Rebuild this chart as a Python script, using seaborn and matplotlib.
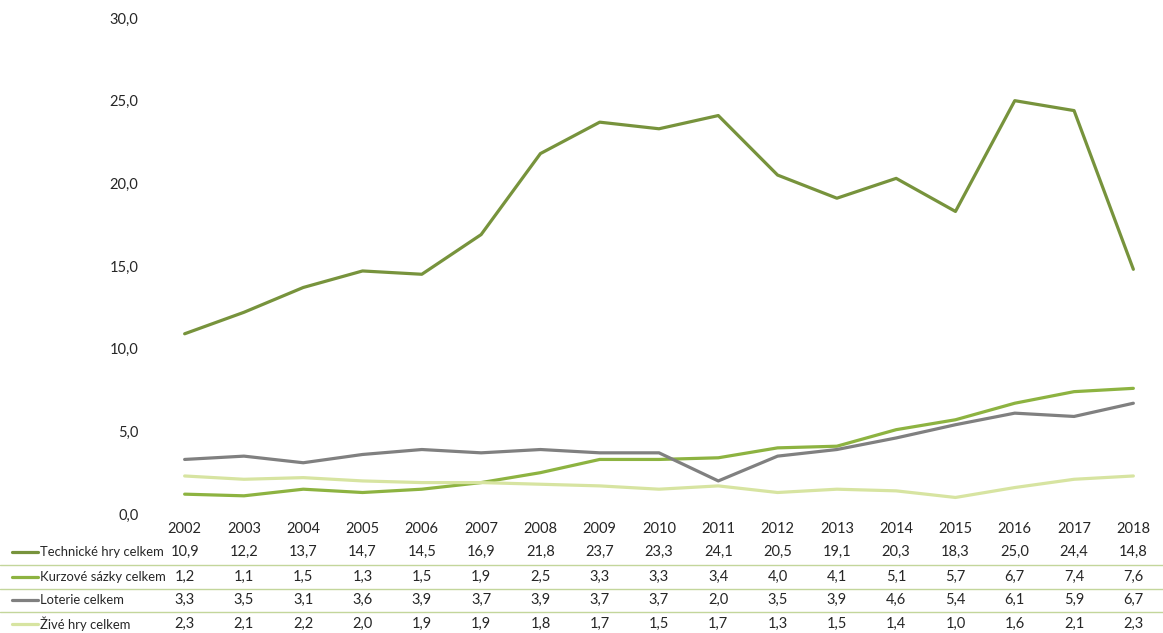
import pandas as pd
import matplotlib.pyplot as plt
import matplotlib.transforms as mtransforms
import seaborn as sns

years = list(range(2002, 2019))
technicke = [10.9, 12.2, 13.7, 14.7, 14.5, 16.9, 21.8, 23.7, 23.3, 24.1, 20.5, 19.1, 20.3, 18.3, 25.0, 24.4, 14.8]
kurzove = [1.2, 1.1, 1.5, 1.3, 1.5, 1.9, 2.5, 3.3, 3.3, 3.4, 4.0, 4.1, 5.1, 5.7, 6.7, 7.4, 7.6]
loterie = [3.3, 3.5, 3.1, 3.6, 3.9, 3.7, 3.9, 3.7, 3.7, 2.0, 3.5, 3.9, 4.6, 5.4, 6.1, 5.9, 6.7]
zive = [2.3, 2.1, 2.2, 2.0, 1.9, 1.9, 1.8, 1.7, 1.5, 1.7, 1.3, 1.5, 1.4, 1.0, 1.6, 2.1, 2.3]

series_names = ["Technické hry celkem", "Kurzové sázky celkem", "Loterie celkem", "Živé hry celkem"]
series_values = [technicke, kurzove, loterie, zive]
colors = ["#77933C", "#8DB341", "#808080", "#D7E4A1"]

rows = []
for name, vals in zip(series_names, series_values):
    for i, v in enumerate(vals):
        rows.append({"pos": i, "rok": years[i], "serie": name, "hodnota": v})
df = pd.DataFrame(rows)

sns.set_style("white")
plt.rcParams["font.family"] = ["Lato", "DejaVu Sans"]

fig = plt.figure(figsize=(11.63, 6.33), dpi=100)
W, H = 1163, 633
ax = fig.add_axes([155 / W, (H - 514) / H, (1163 - 155) / W, (514 - 18) / H])

sns.lineplot(data=df, x="pos", y="hodnota", hue="serie", hue_order=series_names,
             palette=colors, linewidth=2.3, ax=ax, legend=False)

ax.set_xlim(-0.5, len(years) - 0.5)
ax.set_ylim(0, 30)
ax.set_yticks([0, 5, 10, 15, 20, 25, 30])
ax.set_yticklabels([f"{t:.1f}".replace(".", ",") for t in [0, 5, 10, 15, 20, 25, 30]], fontsize=10.5)
ax.set_xticks(range(len(years)))
ax.set_xticklabels([str(y) for y in years], fontsize=10.5)
ax.tick_params(axis="y", length=0, pad=12)
ax.tick_params(axis="x", length=0, pad=6)
ax.set_xlabel("")
ax.set_ylabel("")
for s in ax.spines.values():
    s.set_visible(False)

# data table under the chart
trans = mtransforms.blended_transform_factory(ax.transData, fig.transFigure)
row_y = [552, 577, 600, 624]
sep_y = [565, 589, 612]
for name, vals, c, yp in zip(series_names, series_values, colors, row_y):
    yf = (H - yp) / H
    fig.add_artist(plt.Line2D([12 / W, 38 / W], [yf, yf], color=c, linewidth=2.3))
    fig.text(40 / W, yf, name, fontsize=9.4, va="center", ha="left")
    for i, v in enumerate(vals):
        ax.text(i, yf, f"{v:.1f}".replace(".", ","), transform=trans,
                fontsize=10.5, va="center", ha="center", clip_on=False)
for yp in sep_y:
    yf = (H - yp) / H
    fig.add_artist(plt.Line2D([0, 1], [yf, yf], color="#C3D69B", linewidth=1))

fig.savefig("out.png", dpi=100)
